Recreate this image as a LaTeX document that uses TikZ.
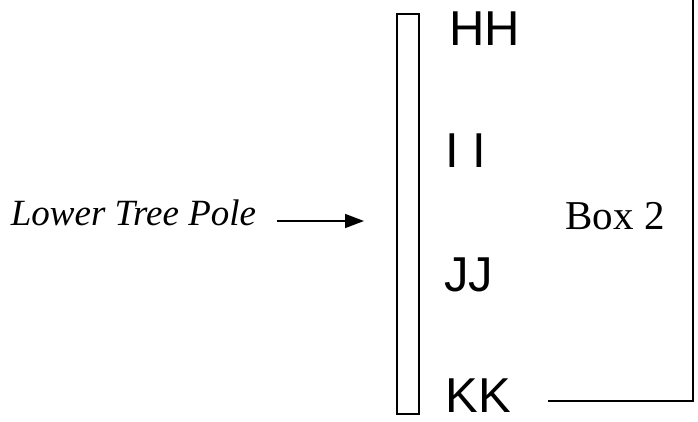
\documentclass[tikz,border=0pt]{standalone}
\usepackage{fontspec}
\setmainfont{Liberation Serif}
\newfontfamily\labsans{Liberation Sans}
\usetikzlibrary{arrows.meta}
\begin{document}
\begin{tikzpicture}[x=1pt,y=-1pt,
  tag/.style={inner sep=0pt,font=\labsans\fontsize{49}{49}\selectfont},
  polebox/.style={draw,line width=1.5pt,minimum width=22pt,minimum height=400pt,inner sep=0pt},
  lineblk/.style={line width=1.5pt}]
\useasboundingbox (0,0) rectangle (698,421);
\node[polebox] (pole) at (408,214) {};
\node[tag] (hh) at (485,29) {HH};
\node[tag] (ii) at (465.5,151) {I I};
\node[tag] (jj) at (468.5,274.5) {JJ};
\node[tag] (kk) at (478,396) {KK};
\node[inner sep=0pt,anchor=base,font=\fontsize{41}{41}\selectfont] (box) at (615,229) {Box 2};
\node[inner sep=0pt,anchor=base,font=\itshape\fontsize{37}{37}\selectfont] (lab) at (133.5,225) {Lower Tree Pole};
\coordinate (as) at (277,221);
\coordinate (ae) at (364,221);
\draw[lineblk,-{Triangle[length=19pt,width=14pt]}] (as) -- (ae);
\coordinate (btop) at (693,0);
\coordinate (bcorner) at (693,401);
\coordinate (bend) at (548,401);
\draw[lineblk] (btop) -- (bcorner) -- (bend);
\end{tikzpicture}
\end{document}
